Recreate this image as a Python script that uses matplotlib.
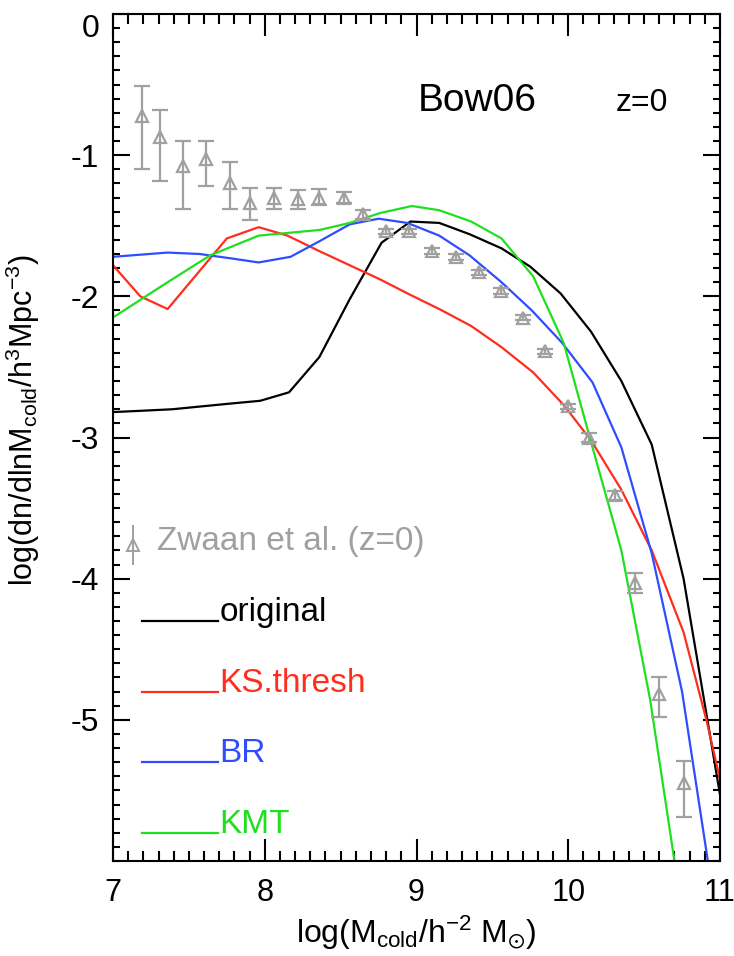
import matplotlib
matplotlib.use('Agg')
import matplotlib.pyplot as plt
from matplotlib.ticker import MultipleLocator

plt.rcParams['font.family'] = ['Liberation Sans', 'DejaVu Sans']
plt.rcParams['mathtext.fontset'] = 'custom'
plt.rcParams['mathtext.rm'] = 'Liberation Sans'
plt.rcParams['mathtext.it'] = 'Liberation Sans:italic'
plt.rcParams['axes.unicode_minus'] = False

# Zwaan et al. HI mass function (z=0)
zw_x = [7.19, 7.31, 7.46, 7.61, 7.77, 7.90, 8.06, 8.22, 8.36, 8.52, 8.65, 8.80, 8.95,
        9.10, 9.26, 9.41, 9.56, 9.70, 9.85, 10.00, 10.14, 10.31, 10.44, 10.60, 10.76]
zw_y = [-0.72, -0.87, -1.08, -1.03, -1.20, -1.34, -1.30, -1.31, -1.30, -1.30, -1.42, -1.54, -1.54,
        -1.68, -1.72, -1.83, -1.96, -2.15, -2.39, -2.78, -3.00, -3.41, -4.03, -4.82, -5.45]
zw_err_up = [0.21, 0.19, 0.18, 0.13, 0.15, 0.11, 0.07, 0.06, 0.06, 0.04, 0.03, 0.02, 0.02,
             0.02, 0.02, 0.02, 0.02, 0.02, 0.02, 0.02, 0.03, 0.03, 0.07, 0.12, 0.16]
zw_err_lo = [0.38, 0.31, 0.30, 0.19, 0.18, 0.12, 0.08, 0.07, 0.05, 0.04, 0.03, 0.02, 0.02,
             0.02, 0.02, 0.02, 0.02, 0.02, 0.02, 0.02, 0.03, 0.03, 0.07, 0.16, 0.24]

# model mass functions
orig_x = [7.00, 7.20, 7.39, 7.58, 7.77, 7.97, 8.16, 8.36, 8.56, 8.77, 8.96, 9.15, 9.35, 9.56,
          9.75, 9.95, 10.15, 10.35, 10.55, 10.76, 10.95, 11.00]
orig_y = [-2.82, -2.81, -2.80, -2.78, -2.76, -2.74, -2.68, -2.43, -2.02, -1.62, -1.47, -1.48, -1.56, -1.66,
          -1.79, -1.98, -2.25, -2.60, -3.05, -4.00, -5.21, -5.53]

ks_x = [7.00, 7.18, 7.36, 7.75, 7.96, 8.15, 8.36, 8.56, 8.76, 8.96, 9.15, 9.36, 9.56, 9.77,
        9.97, 10.15, 10.35, 10.55, 10.76, 10.91, 11.00]
ks_y = [-1.78, -2.00, -2.09, -1.59, -1.51, -1.57, -1.68, -1.78, -1.88, -1.99, -2.09, -2.21, -2.36, -2.54,
        -2.77, -3.02, -3.37, -3.80, -4.38, -5.00, -5.42]

br_x = [7.00, 7.36, 7.57, 7.77, 7.96, 8.17, 8.36, 8.56, 8.75, 8.94, 9.15, 9.35, 9.56, 9.76,
        9.96, 10.16, 10.35, 10.55, 10.75, 10.92]
br_y = [-1.72, -1.69, -1.70, -1.73, -1.76, -1.72, -1.61, -1.49, -1.45, -1.48, -1.57, -1.71, -1.90, -2.10,
        -2.33, -2.61, -3.07, -3.82, -4.80, -6.00]

kmt_x = [7.00, 7.36, 7.64, 7.96, 8.16, 8.36, 8.56, 8.76, 8.97, 9.15, 9.36, 9.56, 9.77, 9.97,
         10.16, 10.35, 10.54, 10.70]
kmt_y = [-2.15, -1.90, -1.71, -1.57, -1.55, -1.53, -1.48, -1.41, -1.36, -1.39, -1.47, -1.59, -1.86, -2.33,
         -3.07, -3.80, -4.86, -6.00]

models = [
    ('original', orig_x, orig_y, 'black'),
    ('KS.thresh', ks_x, ks_y, '#ff2d1e'),
    ('BR', br_x, br_y, '#2f4dff'),
    ('KMT', kmt_x, kmt_y, '#1fe01f'),
]
key_y = [-4.3, -4.8, -5.3, -5.8]
grey = '#a0a0a0'

fig = plt.figure(figsize=(7.34, 9.56), dpi=100)
ax = fig.add_axes([113 / 734, 95 / 956, 607 / 734, 847 / 956])

for (name, xs, ys, col), ky in zip(models, key_y):
    ax.plot(xs, ys, color=col, lw=1.6, clip_on=True)
    ax.plot([7.19, 7.69], [ky, ky], color=col, lw=1.6)
    ax.text(7.70, ky, name, color=col, fontsize=24, ha='left', va='baseline')

ax.errorbar(zw_x, zw_y, yerr=[zw_err_lo, zw_err_up], fmt='^', color=grey,
            mfc='none', mec=grey, mew=1.6, ms=9, elinewidth=1.6, capsize=5.5, capthick=1.6)

# key for the observational data
ax.errorbar([7.135], [-3.76], yerr=[[0.14], [0.14]], fmt='^', color=grey,
            mfc='none', mec=grey, mew=1.4, ms=8, elinewidth=1.4, capsize=0)
ax.text(7.29, -3.80, 'Zwaan et al. (z=0)', color=grey, fontsize=24, ha='left', va='baseline')

ax.text(9.01, -0.687, 'Bow06', fontsize=28, ha='left', va='baseline')
ax.text(10.31, -0.687, 'z=0', fontsize=23, ha='left', va='baseline')

ax.set_xlim(7, 11)
ax.set_ylim(-6, 0)
ax.set_xticks([7, 8, 9, 10, 11])
ax.set_yticks([-5, -4, -3, -2, -1, 0])
ax.xaxis.set_minor_locator(MultipleLocator(0.1))
ax.yaxis.set_minor_locator(MultipleLocator(0.1))
ax.tick_params(which='both', direction='in', top=True, right=True, width=1.5, labelsize=23)
ax.tick_params(axis='x', which='major', length=16, pad=12, labelsize=22)
ax.tick_params(axis='x', which='minor', length=7)
ax.tick_params(axis='y', which='major', length=12, pad=10)
ax.tick_params(axis='y', which='minor', length=5)
for sp in ax.spines.values():
    sp.set_linewidth(1.5)

ax.set_xlabel(r'$\mathregular{log(M_{cold}/h^{-2}\ M_{\odot})}$', fontsize=23)
ax.set_ylabel(r'$\mathregular{log(dn/dlnM_{cold}/h^{3}Mpc^{-3})}$', fontsize=22)
ax.xaxis.set_label_coords(0.5, -0.062)
ax.yaxis.set_label_coords(-0.117, 0.52)

fig.canvas.draw()
ax.get_yticklabels()[-1].set_va('top')

fig.savefig('out.png', dpi=100)
